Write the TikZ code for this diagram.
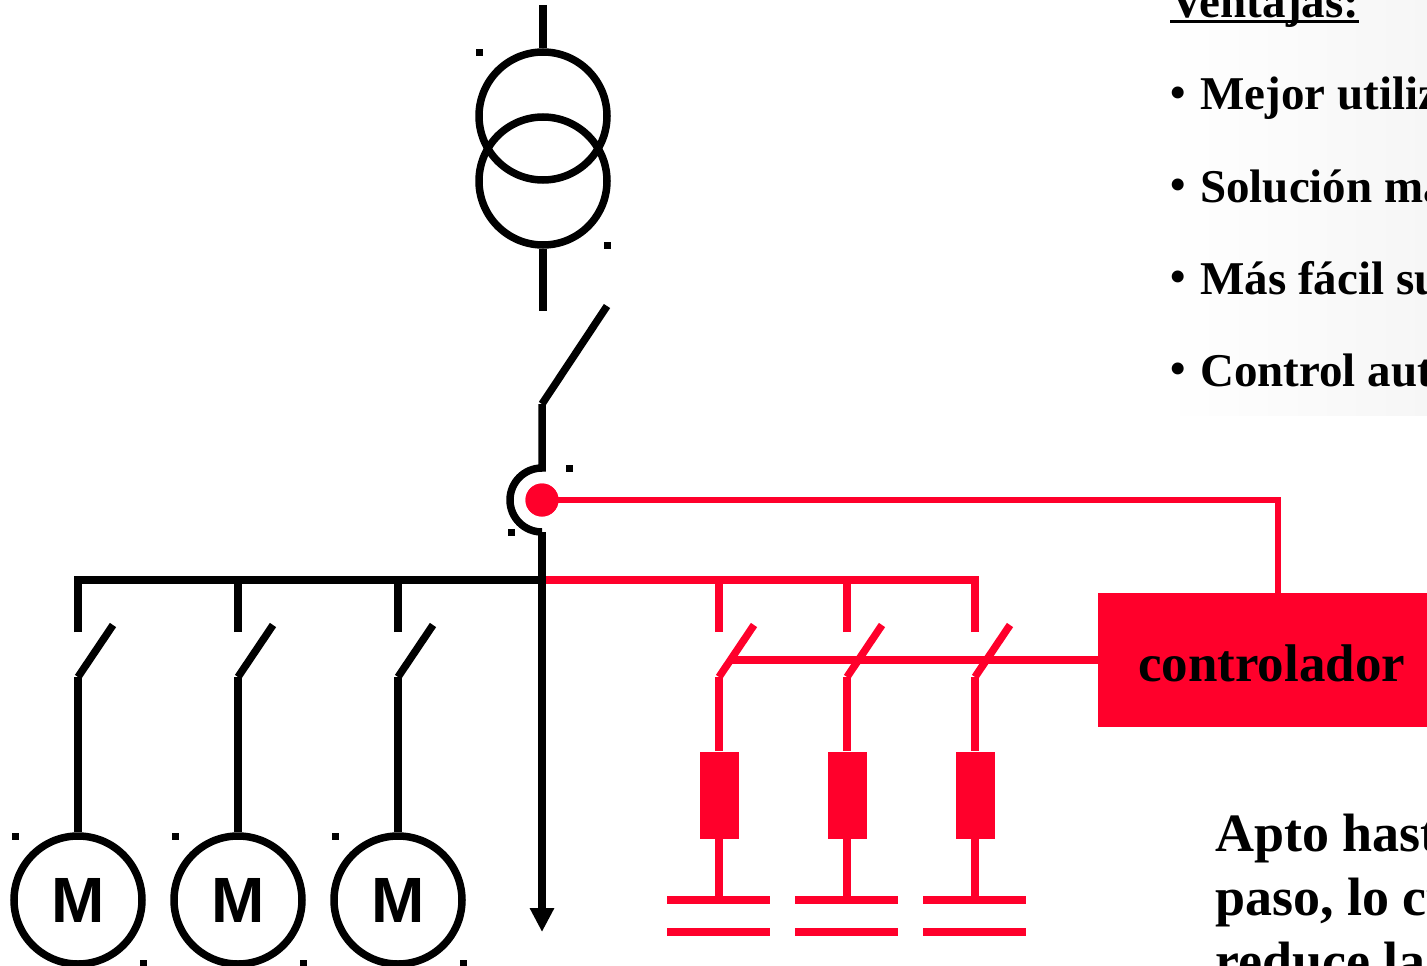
\documentclass[tikz,border=0pt]{standalone}
\usepackage{fontspec}
\setmainfont{Liberation Serif}
\newfontfamily\motorfont{Liberation Sans}
\usetikzlibrary{arrows.meta}
\definecolor{ctrlred}{HTML}{FF002B}

\tikzset{
	wire/.style={line width=7.5pt},
	redwire/.style={wire, ctrlred},
	signal/.style={line width=6pt, ctrlred},
	plate/.style={line width=8pt, ctrlred},
	winding/.style={circle, draw, wire, minimum size=128pt, inner sep=0pt},
	motor/.style={winding, font=\motorfont\bfseries\fontsize{64}{70}\selectfont},
	sensor/.style={circle, fill=ctrlred, minimum size=33pt, inner sep=0pt},
	resistor/.style={rectangle, fill=ctrlred, minimum width=39pt, minimum height=87pt, inner sep=0pt},
	ctrlbox/.style={rectangle, fill=ctrlred, anchor=west, minimum height=134pt, inner xsep=40pt, text height=44pt, font=\bfseries\fontsize{53}{60}\selectfont},
	handle/.style={rectangle, fill=black, minimum size=7pt, inner sep=0pt},
	slide/.style={anchor=base west, inner sep=0pt, font=\bfseries\fontsize{47}{56}\selectfont},
	dot/.style={slide, font=\bfseries\fontsize{44}{50}\selectfont},
	note/.style={slide, font=\bfseries\fontsize{54}{64}\selectfont},
}

\begin{document}
\begin{tikzpicture}[x=1pt, y=-1pt]
	\clip (0,0) rectangle (1427,966);
	\shade[left color=white, right color=gray!7] (1165,0) rectangle (1427,415);

	% transformer
	\node[winding] (W1) at (543,116) {};
	\node[winding] (W2) at (543,181) {};
	\coordinate (Top) at (543,5);
	\coordinate (S0) at (543,311);
	\draw[wire] (Top) -- (W1.north);
	\draw[wire] (W2.south) -- (S0);

	% main switch and current transformer
	\coordinate (S1) at (542,404);
	\coordinate (S2) at (607,306);
	\coordinate (C1) at (542,468);
	\coordinate (C2) at (542,532);
	\draw[wire] (S1) -- (S2);
	\draw[wire] (S1) -- (C1) arc[start angle=90, end angle=270, radius=32pt];

	% controller and signal lines
	\node[ctrlbox] (Ctrl) at (1098,660) {controlador};
	\node[sensor] (CT) at (542,500) {};
	\coordinate (Q) at (1278,500);
	\draw[signal] (CT.center) -- (Q) -- (Q |- Ctrl.north);
	\coordinate (K) at (732,660);
	\draw[redwire] (K) -- (Ctrl.west);

	% busbars
	\coordinate (BJ) at (542,580);
	\coordinate (Out) at (542,932);

	% capacitor banks
	\foreach \x/\n in {719/1,847/2,975/3}{
		\coordinate (R\n) at (\x,632);
		\coordinate (F\n) at (\x,677);
		\node[resistor] (Z\n) at (\x,795) {};
		\coordinate (P\n) at (\x,900);
		\coordinate (N\n) at (\x,932);
		\draw[redwire] (R\n) -- (R\n |- BJ);
		\draw[redwire] (F\n) -- ++(35,-52);
		\draw[redwire] (F\n) -- (Z\n.north);
		\draw[redwire] (Z\n.south) -- (P\n);
		\draw[plate] ([xshift=-52pt]P\n) -- ([xshift=51pt]P\n);
		\draw[plate] ([xshift=-52pt]N\n) -- ([xshift=51pt]N\n);
	}
	\draw[redwire] (BJ) -| (R3);

	% motor feeders
	\foreach \x/\n in {78/1,238/2,398/3}{
		\coordinate (D\n) at (\x,632);
		\coordinate (E\n) at (\x,677);
		\node[motor] (M\n) at (\x,900) {M};
		\draw[wire] (D\n) -- (D\n |- BJ);
		\draw[wire] (E\n) -- ++(35,-52);
		\draw[wire] (E\n) -- (M\n.north);
	}
	\draw[wire] (D1) |- (BJ);
	\draw[wire, -{Triangle[width=23pt,length=24pt]}] (C2) -- (Out);
	\node[sensor] at (CT) {};

	% selection marks
	\foreach \p [count=\i] in {(479,53),(607,245),(569,468),(511,532),(15,836),(143,963),(175,836),(303,963),(335,836),(463,963)}
		\node[handle] (h\i) at \p {};

	% text
	\node[slide] (V) at (1170,18) {Ventajas:};
	\draw[line width=3pt] ([yshift=-4pt]V.base west) -- ([yshift=-4pt]V.base east);
	\foreach \t [count=\i] in {{Mejor utilización},{Solución más},{Más fácil supervisión},{Control automático}}{
		\node[dot] (b\i) at (1170,{107+92.3*(\i-1)}) {\textbullet};
		\node[slide] (t\i) at (1200,{110+92.3*(\i-1)}) {\t};
	}
	\node[note] (A1) at (1215,851) {Apto hasta};
	\node[note] (A2) at (1215,915) {paso, lo cual};
	\node[note] (A3) at (1215,979) {reduce la};
\end{tikzpicture}
\end{document}
